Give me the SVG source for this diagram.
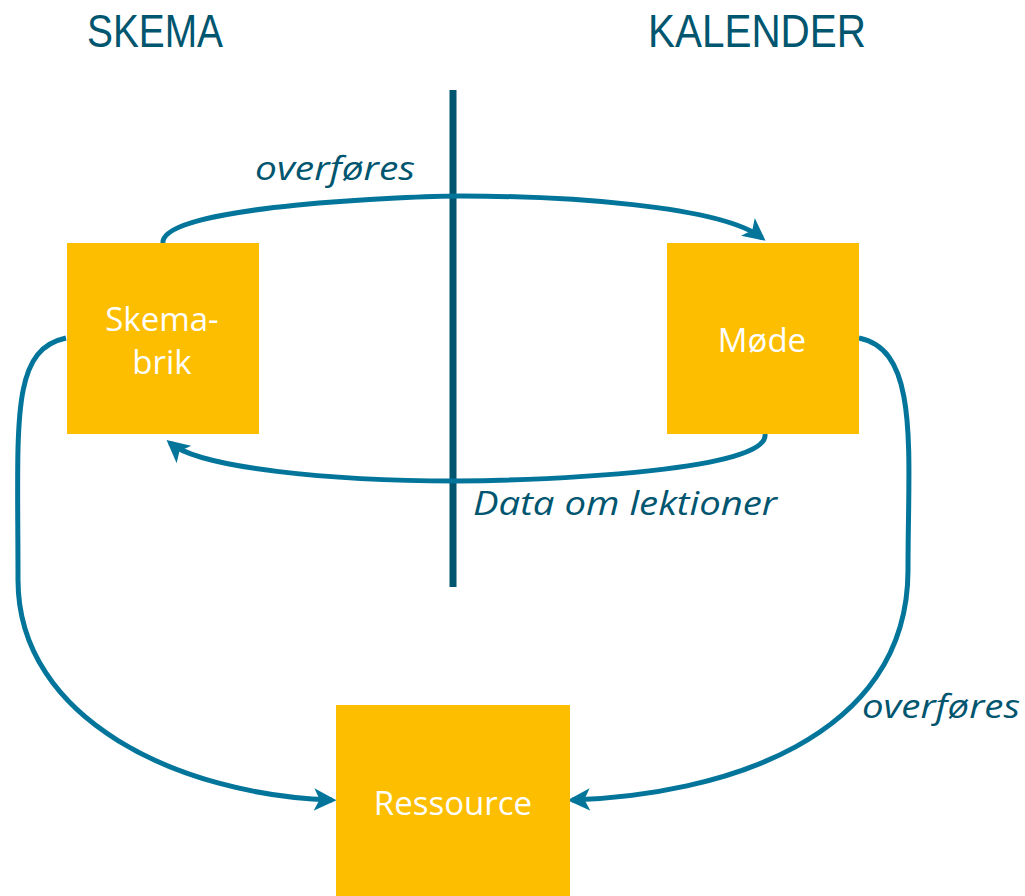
<svg xmlns="http://www.w3.org/2000/svg" width="1025" height="896" viewBox="0 0 1025 896">
<style>
.box{fill:#FDBE00}
.lbl{font-family:"Open Sans","Liberation Sans",sans-serif;font-size:33px;fill:#fff;text-anchor:middle}
.hdr{font-family:"Liberation Sans",sans-serif;font-size:46px;fill:#00556F}
.it{font-family:"Open Sans","Liberation Sans",sans-serif;font-size:32px;font-style:italic;fill:#00556F}
.con{fill:none;stroke:#03759A;stroke-width:5;marker-end:url(#ah)}
</style>
<defs>
<marker id="ah" viewBox="0 0 10 10" refX="8" refY="5" markerWidth="4.5" markerHeight="4.5" orient="auto" markerUnits="strokeWidth">
<path d="M0,0 L10,5 L0,10 L2.5,5 z" fill="#03759A"/>
</marker>
</defs>
<text class="hdr" x="87" y="47" textLength="136" lengthAdjust="spacingAndGlyphs">SKEMA</text>
<text class="hdr" x="648" y="47" textLength="218" lengthAdjust="spacingAndGlyphs">KALENDER</text>
<line x1="453" y1="90" x2="453" y2="587" stroke="#00556F" stroke-width="7"/>
<g id="connectors">
<path class="con" d="M163,243 C160,205 420,196 460,196 C560,196 720,205 762,238"/>
<path class="con" d="M765,434 C770,470 560,480 455,481 C330,481 200,468 170,443"/>
<path class="con" d="M66,338 C10,350 18,420 18,580 C18,720 180,795 332,800"/>
<path class="con" d="M859,338 C920,350 908,450 908,570 C908,740 720,795 572,800"/>
</g>
<text class="it" x="255" y="180" textLength="160" lengthAdjust="spacingAndGlyphs">overføres</text>
<text class="it" x="473" y="515" textLength="304" lengthAdjust="spacingAndGlyphs">Data om lektioner</text>
<text class="it" x="862" y="718" textLength="158" lengthAdjust="spacingAndGlyphs">overføres</text>
<g id="skemabrik">
<rect class="box" x="67" y="243" width="192" height="191"/>
<text class="lbl" x="162" y="331">Skema-</text>
<text class="lbl" x="162" y="374">brik</text>
</g>
<g id="mode">
<rect class="box" x="667" y="243" width="192" height="191"/>
<text class="lbl" x="762" y="352">Møde</text>
</g>
<g id="ressource">
<rect class="box" x="336" y="705" width="234" height="191"/>
<text class="lbl" x="453" y="815">Ressource</text>
</g>
</svg>
